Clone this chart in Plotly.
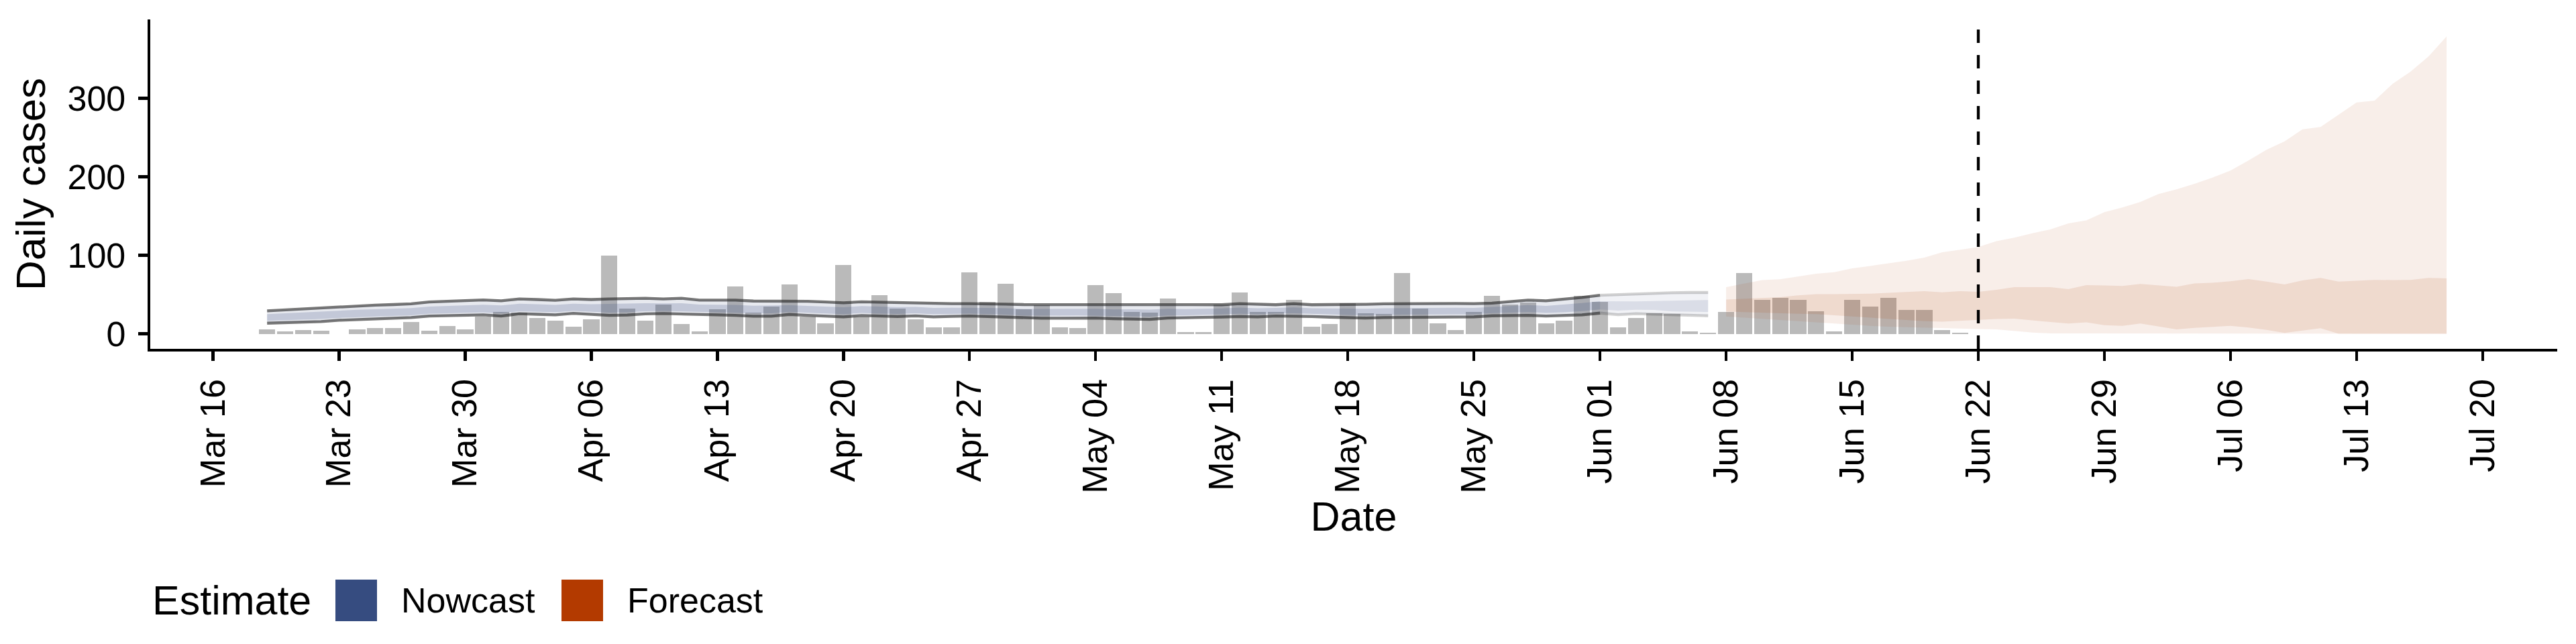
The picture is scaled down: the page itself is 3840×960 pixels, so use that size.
import pandas as pd
import plotly.graph_objects as go

# ---------------- data ----------------
CASE_START = "2020-03-19"
CASES = [6, 3, 5, 4, 0, 6, 7, 7, 15, 4, 10, 6, 22,
         28, 27, 20, 17, 9, 18, 100, 32, 17, 37, 12, 3, 31, 60, 27, 35, 63, 22, 13, 88,
         22, 49, 32, 18, 8, 8, 78, 41, 64, 31,
         36, 8, 7, 62, 52, 28, 27, 45, 2, 2, 37, 53, 28, 28, 43, 9, 12, 39, 26, 25,
         77, 32, 13, 5, 28, 48, 37, 40, 13, 17, 48,
         41, 8, 20, 26, 25, 3, 1, 28, 77, 43, 46, 43, 29, 3, 43, 35, 46, 30, 30, 5, 1]

NOWCAST_START = "2020-03-19"
PARTIAL_START = "2020-06-01"
NOW_UPPER = [29.2, 30.5, 31.8, 32.6, 34.5, 35.8, 36.5, 37.2, 38.2, 40.5, 41.2, 42.2, 43.1,
             42.0, 44.3, 43.6, 42.6, 44.3, 43.6, 44.3, 44.6, 45.2, 44.3, 45.2, 42.9, 42.9, 42.9, 41.7,
             41.7, 41.7, 41.4, 40.5, 39.4, 40.8, 40.2, 39.6, 39.5, 38.3, 38.3, 38.3, 38.3, 37.8, 37.2,
             37.2, 37.2, 37.2, 37.2, 36.3, 37.2, 36.3, 37.2, 36.6, 36.3, 37.0, 38.3, 37.6, 37.0, 38.3,
             37.0, 37.2, 37.0, 37.5, 38.1, 38.3, 38.6, 39.1, 38.6, 38.3, 39.1, 41.0, 42.9, 42.0, 44.0, 46.3,
             49.0, 50.0, 50.6, 51.5, 52.2, 52.6, 52.6]
NOW_LOWER = [13.5, 14.2, 14.8, 15.5, 17.2, 18.0, 19.0, 19.8, 20.6, 22.5, 23.2, 23.6, 24.0,
             22.5, 25.5, 24.8, 24.0, 26.0, 24.8, 23.5, 23.8, 25.3, 25.8, 25.5, 24.3, 24.0, 23.5, 22.4,
             22.4, 24.6, 23.5, 22.5, 21.5, 23.2, 22.4, 22.0, 22.8, 21.5, 22.2, 22.6, 22.0, 21.2, 20.0,
             19.8, 19.8, 20.0, 20.0, 19.2, 18.5, 18.3, 20.0, 20.2, 20.6, 21.3, 22.0, 21.5, 22.6, 22.6,
             22.0, 21.2, 20.5, 20.0, 20.6, 20.9, 21.2, 21.2, 21.5, 21.5, 22.9, 23.2, 23.5, 22.5, 22.9, 24.0,
             26.3, 24.3, 25.5, 25.0, 24.0, 23.5, 22.9]
NOW_INNER_UPPER = [25.0, 26.2, 27.2, 28.0, 29.3, 30.5, 31.2, 31.8, 32.8, 34.6, 35.2, 36.2, 36.9,
                   36.2, 38.2, 37.6, 36.8, 38.3, 37.6, 38.0, 38.4, 39.0, 38.6, 39.0, 37.2, 37.0, 36.8, 35.8,
                   36.0, 36.4, 35.6, 34.8, 33.8, 35.2, 34.5, 34.0, 34.2, 33.0, 33.2, 33.4, 33.0, 32.4, 31.6,
                   31.6, 31.7, 31.8, 31.8, 30.9, 31.2, 30.7, 31.8, 31.5, 31.6, 32.3, 33.3, 32.6, 33.0, 33.6,
                   32.6, 32.2, 31.8, 31.9, 32.6, 32.8, 33.1, 33.3, 33.2, 33.0, 34.2, 35.3, 36.6, 35.6, 37.2, 39.2,
                   41.4, 41.0, 41.2, 41.6, 42.0, 42.6, 43.0]
NOW_INNER_LOWER = [16.5, 17.3, 18.0, 18.8, 20.2, 21.0, 22.0, 22.8, 23.6, 25.5, 26.3, 26.8, 27.2,
                   26.0, 28.6, 28.0, 27.3, 29.0, 28.0, 27.0, 27.3, 28.6, 29.0, 28.8, 27.6, 27.4, 26.8, 25.9,
                   26.0, 27.8, 26.8, 25.8, 24.9, 26.5, 25.7, 25.3, 26.0, 24.8, 25.3, 25.7, 25.2, 24.4, 23.3,
                   23.1, 23.2, 23.4, 23.4, 22.6, 22.2, 21.9, 23.4, 23.5, 23.8, 24.6, 25.4, 24.9, 25.9, 26.0,
                   25.3, 24.6, 23.9, 23.5, 24.0, 24.4, 24.6, 24.7, 24.9, 24.9, 26.4, 26.9, 27.6, 26.6, 27.3, 28.8,
                   31.0, 29.5, 30.6, 30.3, 28.5, 28.2, 27.8]

FORECAST_START = "2020-06-08"
FC_UPPER = [59.5, 64.0, 68.5, 69.5, 73.0, 76.5, 78.5, 83.3, 86.4, 89.4, 93.0, 97.0, 103.8, 107.0,
            110.5, 118.0, 122.5, 128.0, 133.0, 140.7, 144.4, 155.0, 161.0,
            168.0, 178.0, 184.0, 191.0, 199.0, 208.0, 220.7, 234.4, 245.0, 260.4, 263.4, 278.7,
            294.6, 297.0, 318.4, 334.0, 353.5, 378.8]
FC_INNER_UPPER = [43.7, 44.5, 45.5, 46.7, 49.0, 50.4, 50.4, 50.4, 51.0, 52.2, 53.0, 54.3, 52.8, 54.3,
                  53.4, 55.9, 59.5, 59.8, 59.5, 56.8, 62.0, 61.5, 61.0,
                  63.5, 61.4, 59.8, 64.1, 65.0, 67.0, 69.6, 66.5, 62.9, 68.0, 71.1, 66.5,
                  67.5, 68.7, 68.4, 68.7, 71.1, 70.5]
FC_INNER_LOWER = [28.4, 27.5, 26.8, 26.0, 25.5, 25.0, 24.0, 22.5, 21.0, 19.0, 17.5, 16.0, 15.5, 16.5,
                  17.5, 18.8, 19.2, 17.0, 15.0, 13.1, 14.5, 11.0, 10.0,
                  13.0, 9.0, 5.5, 7.5, 9.0, 10.0, 8.0, 5.0, 1.0, 4.0, 7.0, 0.0,
                  0.0, 0.0, 0.0, 0.0, 0.0, 0.0]
FC_LOWER = [22.0, 20.5, 19.0, 17.0, 15.5, 14.0, 13.0, 11.5, 10.0, 9.0, 8.5, 7.5, 7.0, 6.5,
            6.0, 5.5, 3.5, 1.5, 0.5, 0.0, 0.0, 0.0, 0.0,
            0.0, 0.0, 0.0, 0.0, 0.0, 0.0, 0.0, 0.0, 0.0, 0.0, 0.0, 0.0,
            0.0, 0.0, 0.0, 0.0, 0.0, 0.0]

FORECAST_LINE_DATE = "2020-06-22"

TICK_DATES = ["2020-03-16", "2020-03-23", "2020-03-30", "2020-04-06", "2020-04-13", "2020-04-20",
              "2020-04-27", "2020-05-04", "2020-05-11", "2020-05-18", "2020-05-25", "2020-06-01",
              "2020-06-08", "2020-06-15", "2020-06-22", "2020-06-29", "2020-07-06", "2020-07-13",
              "2020-07-20"]
TICK_LABELS = ["Mar 16", "Mar 23", "Mar 30", "Apr 06", "Apr 13", "Apr 20", "Apr 27", "May 04",
               "May 11", "May 18", "May 25", "Jun 01", "Jun 08", "Jun 15", "Jun 22", "Jun 29",
               "Jul 06", "Jul 13", "Jul 20"]
Y_TICKS = [0, 100, 200, 300]
LEGEND_TITLE = "Estimate"
LEGEND_LABELS = ["Nowcast", "Forecast"]

# ---------------- style ----------------
FONT = "Liberation Sans"
NOW_RGB = "55,75,127"
FC_RGB = "179,58,0"
LEGEND_COLORS = ["#364C80", "#B33A00"]
BAR_COLOR = "#BABABA"

W, H = 3840, 960
ML, MR, MT, MB = 224, 28, 29, 440
PW, PH = W - ML - MR, H - MT - MB


def px_x(p):
    return (p - ML) / PW


def px_y(p):
    return (H - MB - p) / PH


case_dates = pd.date_range(CASE_START, periods=len(CASES), freq="D")
now_dates = pd.date_range(NOWCAST_START, periods=len(NOW_UPPER), freq="D")
fc_dates = pd.date_range(FORECAST_START, periods=len(FC_UPPER), freq="D")
split = int((pd.Timestamp(PARTIAL_START) - pd.Timestamp(NOWCAST_START)).days)


def band(dates, lo, hi, color):
    d = list(dates)
    return go.Scatter(x=d + d[::-1], y=list(hi) + list(lo)[::-1], fill="toself",
                      fillcolor=color, mode="lines", line=dict(width=0),
                      hoverinfo="skip", showlegend=False)


def edge(dates, y, color):
    return go.Scatter(x=list(dates), y=list(y), mode="lines",
                      line=dict(color=color, width=4.3), hoverinfo="skip", showlegend=False)


fig = go.Figure()
fig.add_trace(go.Bar(x=case_dates, y=CASES, marker=dict(color=BAR_COLOR, line=dict(width=0)),
                     width=0.9 * 86400000, showlegend=False, hoverinfo="skip"))

# nowcast main part
a, b = 0, split + 1
fig.add_trace(band(now_dates[a:b], NOW_LOWER[a:b], NOW_UPPER[a:b], f"rgba({NOW_RGB},0.12)"))
fig.add_trace(band(now_dates[a:b], NOW_INNER_LOWER[a:b], NOW_INNER_UPPER[a:b], f"rgba({NOW_RGB},0.205)"))
fig.add_trace(edge(now_dates[a:b], NOW_UPPER[a:b], "rgba(30,30,30,0.6)"))
fig.add_trace(edge(now_dates[a:b], NOW_LOWER[a:b], "rgba(30,30,30,0.6)"))
# nowcast partial-data part
a, b = split, len(NOW_UPPER)
fig.add_trace(band(now_dates[a:b], NOW_LOWER[a:b], NOW_UPPER[a:b], f"rgba({NOW_RGB},0.07)"))
fig.add_trace(band(now_dates[a:b], NOW_INNER_LOWER[a:b], NOW_INNER_UPPER[a:b], f"rgba({NOW_RGB},0.12)"))
fig.add_trace(edge(now_dates[a:b], NOW_UPPER[a:b], "rgba(30,30,30,0.2)"))
fig.add_trace(edge(now_dates[a:b], NOW_LOWER[a:b], "rgba(30,30,30,0.2)"))

# forecast
fig.add_trace(band(fc_dates, FC_LOWER, FC_UPPER, f"rgba({FC_RGB},0.085)"))
fig.add_trace(band(fc_dates, FC_INNER_LOWER, FC_INNER_UPPER, f"rgba({FC_RGB},0.115)"))

fig.add_shape(type="line", xref="x", yref="paper", x0=FORECAST_LINE_DATE, x1=FORECAST_LINE_DATE,
              y0=0, y1=1, line=dict(color="black", width=4.3, dash="20px,18px"))

# legend drawn by hand (large keys like ggplot)
fig.add_annotation(xref="paper", yref="paper", x=px_x(225), y=px_y(895), text=LEGEND_TITLE,
                   xanchor="left", yanchor="middle", showarrow=False,
                   font=dict(family=FONT, size=61, color="black"))
key_left = [500, 837]
text_left = [596, 933]
for lab, col, kl, tl in zip(LEGEND_LABELS, LEGEND_COLORS, key_left, text_left):
    fig.add_shape(type="rect", xref="paper", yref="paper", x0=px_x(kl), x1=px_x(kl + 62),
                  y0=px_y(926), y1=px_y(864), fillcolor=col, line=dict(width=0))
    fig.add_annotation(xref="paper", yref="paper", x=px_x(tl), y=px_y(895), text=lab,
                       xanchor="left", yanchor="middle", showarrow=False,
                       font=dict(family=FONT, size=52, color="black"))

fig.update_layout(
    width=W, height=H, margin=dict(l=ML, r=MR, t=MT, b=MB, autoexpand=False),
    plot_bgcolor="white", paper_bgcolor="white", showlegend=False, bargap=0,
    font=dict(family=FONT, color="black"),
)
fig.update_xaxes(
    type="date", range=["2020-03-12 12:20", "2020-07-24 03:22"],
    tickvals=TICK_DATES, ticktext=TICK_LABELS, tickangle=-90,
    tickfont=dict(family=FONT, size=52, color="black"),
    ticks="outside", ticklen=14, tickwidth=4.3, tickcolor="black",
    showline=True, linewidth=4.3, linecolor="black", showgrid=False, zeroline=False,
    title=dict(text="Date", font=dict(family=FONT, size=61, color="black"), standoff=10),
    automargin=False, ticklabelstandoff=6,
)
fig.update_yaxes(
    range=[-19.2, 400.4], tickvals=Y_TICKS, ticktext=[str(v) for v in Y_TICKS],
    tickfont=dict(family=FONT, size=52, color="black"),
    ticks="outside", ticklen=14, tickwidth=4.3, tickcolor="black",
    showline=True, linewidth=4.3, linecolor="black", showgrid=False, zeroline=False,
    title=dict(text="Daily cases", font=dict(family=FONT, size=62, color="black"), standoff=14),
    automargin=False, ticklabelstandoff=8,
)

fig.write_html("out.html", config={"displayModeBar": False, "staticPlot": True},
               post_script="document.body.style.margin='0';")
